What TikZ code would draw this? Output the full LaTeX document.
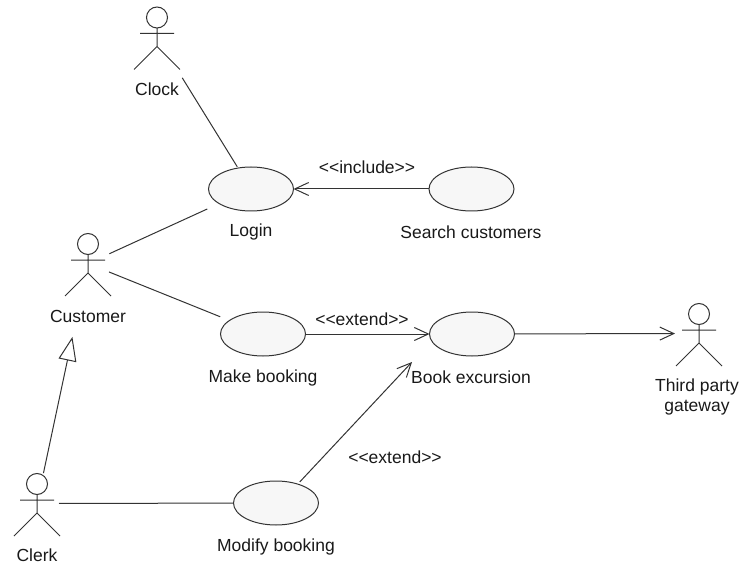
\documentclass[tikz,border=0pt]{standalone}
\usepackage{fontspec}
\newfontfamily\labfont{Liberation Sans}
\usetikzlibrary{arrows.meta,shapes.geometric}
\definecolor{lineink}{HTML}{333333}
\definecolor{casefill}{HTML}{F7F7F7}
\tikzset{
  usecase/.style={draw=lineink,fill=casefill,line width=1pt,ellipse,minimum width=85pt,minimum height=44pt,inner sep=0pt,outer sep=0pt},
  lab/.style={font=\labfont\fontsize{17.5}{20}\selectfont,text=black!90,inner sep=0pt,align=center},
  assoc/.style={draw=lineink,line width=1pt},
  openarrow/.style={assoc,-{Straight Barb[length=14pt,width=13pt,line width=1pt]}},
  genarrow/.style={assoc,-{Triangle[open,length=24pt,width=18pt,line width=1pt,fill=white]}},
  actor/.pic={
    \draw[lineink,line width=1pt] (0,-19.5) circle[radius=10.5pt]
      (0,-9) -- (0,9.5) (-17,-3.5) -- (17,-3.5) (-23,32.5) -- (0,9.5) -- (23,32.5);
  }
}
\begin{document}
\begin{tikzpicture}[x=1pt,y=-1pt]
\path[use as bounding box] (0,0) rectangle (739,564);
% actors
\coordinate (clock) at (157,37);
\coordinate (customer) at (88,263.5);
\coordinate (clerk) at (37,503.5);
\coordinate (third) at (699,333.5);
\pic at (clock) {actor};
\pic at (customer) {actor};
\pic at (clerk) {actor};
\pic at (third) {actor};
% use cases
\node[usecase] (login) at (251,189) {};
\node[usecase] (search) at (471.5,189) {};
\node[usecase] (make) at (263,334) {};
\node[usecase] (book) at (472,334) {};
\node[usecase] (modify) at (276,503) {};
\coordinate (bookin) at (412,362);
% labels
\node[lab] (lclock) at (157,89) {Clock};
\node[lab] (lcustomer) at (88,316) {Customer};
\node[lab] (lclerk) at (37,555) {Clerk};
\node[lab] (lthird) at (697,397) {Third party\\gateway};
\node[lab] (llogin) at (251,232) {Login};
\node[lab] (lsearch) at (471,232) {Search customers};
\node[lab] (lmake) at (263,378) {Make booking};
\node[lab] (lbook) at (471,377) {Book excursion};
\node[lab] (lmodify) at (276,547) {Modify booking};
\node[lab] (linclude) at (367,167) {<<include>>};
\node[lab] (lextend1) at (362,319) {<<extend>>};
\node[lab] (lextend2) at (395,457) {<<extend>>};
% connectors
\draw[assoc,shorten <=48pt,shorten >=1.5pt] (clock) -- (login);
\draw[assoc,shorten <=23.5pt,shorten >=13pt] (customer) -- (login);
\draw[assoc,shorten <=22.6pt,shorten >=10pt] (customer) -- (make);
\draw[openarrow] (search) -- (login);
\draw[openarrow] (make) -- (book);
\draw[openarrow,shorten >=24pt] (book) -- (third);
\draw[openarrow,shorten <=3pt] (modify.41) -- (bookin);
\draw[assoc,shorten <=22pt] (clerk) -- (modify);
\draw[genarrow,shorten <=31pt,shorten >=75pt] (clerk) -- (customer);
\end{tikzpicture}
\end{document}
